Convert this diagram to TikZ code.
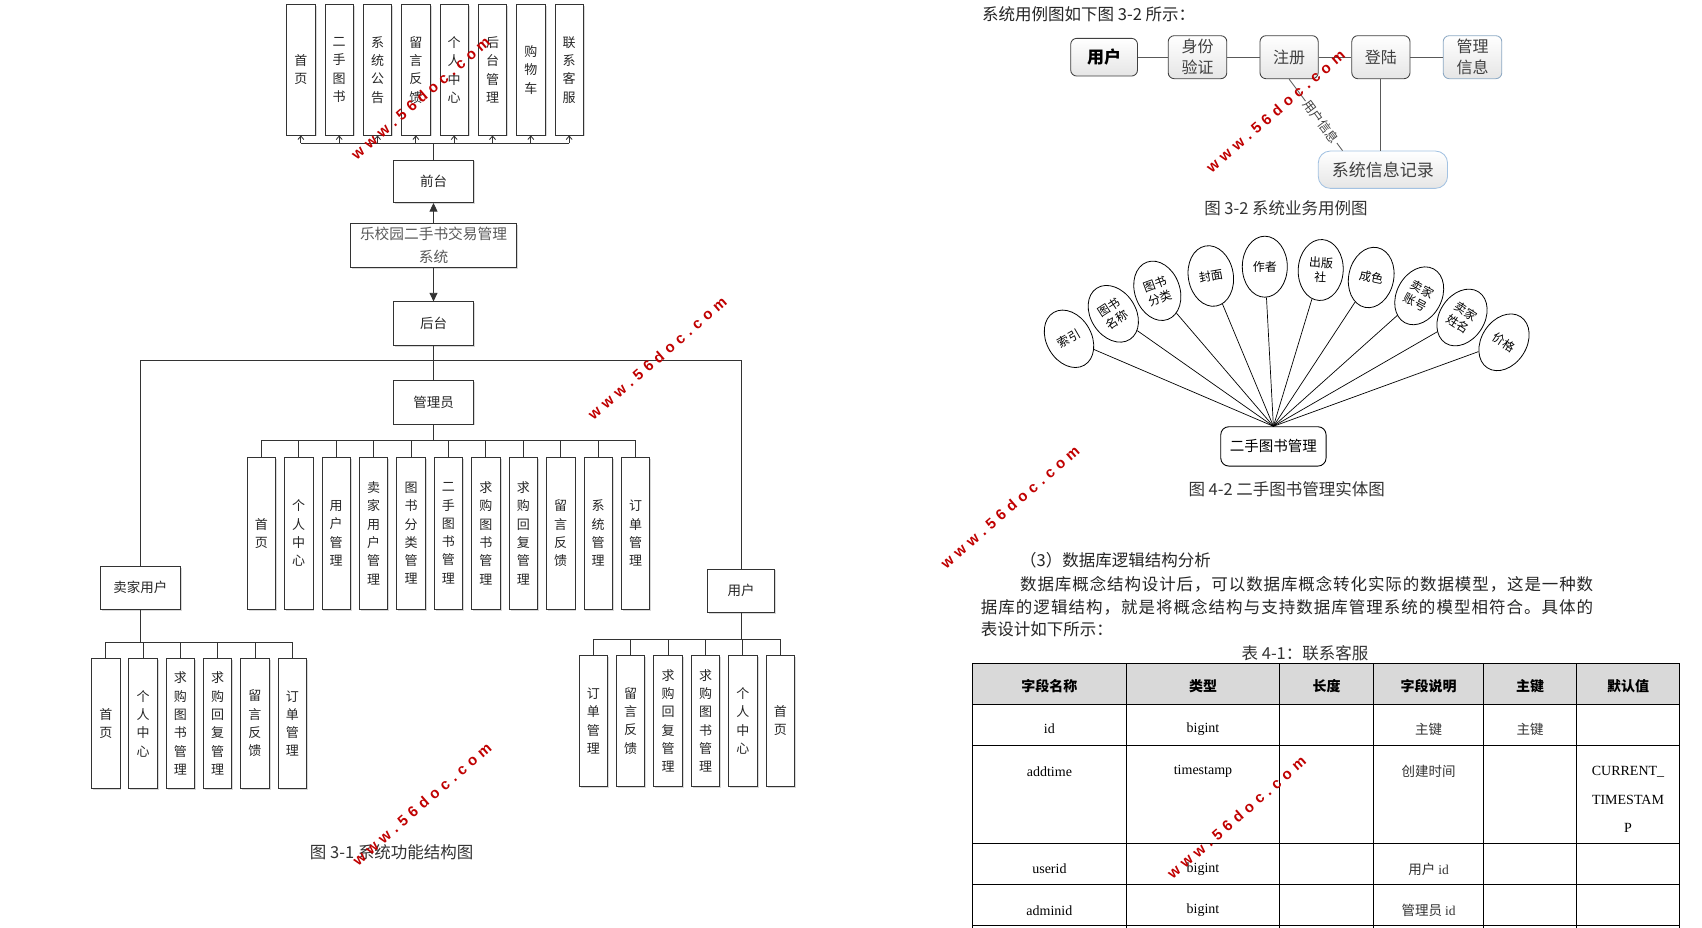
\documentclass[tikz,border=0pt]{standalone}
\usepackage{fontspec}
\setmainfont{Liberation Serif}
\newfontfamily\cjk{Noto Sans CJK SC}
\newfontfamily\wmf{Liberation Sans}
\usetikzlibrary{arrows.meta,shapes.geometric,calc,shadows}
\definecolor{ucblue}{HTML}{8DA9C4}
\definecolor{ucblue2}{HTML}{A3C2E2}
\definecolor{wmred}{HTML}{C00000}
\makeatletter
\newcommand\spreadto[2]{\hbox to #1{\@tfor\spr@c:=#2\do{\spr@c\hfil}\unskip}}
\makeatother
\begin{document}
\begin{tikzpicture}[x=1pt,y=-1pt,
  ln/.style={draw=black!80, line width=0.85pt},
  shad/.style={drop shadow={shadow xshift=1.5pt, shadow yshift=-1.5pt, fill=black!30, opacity=0.5}},
  vb/.style={shad, draw=black!80, line width=0.85pt, fill=white, inner sep=0pt, minimum width=28.4, align=center, font=\cjk\fontsize{13}{18.3}\selectfont, text=black!85},
  hb/.style={shad, draw=black!80, line width=0.85pt, fill=white, inner sep=0pt, align=center, font=\cjk\fontsize{13.5}{16}\selectfont, text=black!85},
  uc/.style={rounded corners=6pt, draw=black!75, line width=0.85pt, top color=white, bottom color=black!10, inner sep=0pt, align=center, font=\cjk\fontsize{16}{21}\selectfont, text=black!75},
  ucl/.style={draw=black!65, line width=0.85pt},
  erell/.style={ellipse, draw=black, line width=0.8pt, fill=white, minimum width=45, minimum height=61, inner sep=0pt, align=center, font=\cjk\fontsize{12}{15}\selectfont},
  capt/.style={inner sep=0pt, font=\cjk\fontsize{16.5}{18}\selectfont, text=black!80},
  paratext/.style={inner sep=0pt, anchor=west, font=\cjk\fontsize{16.5}{18}\selectfont, text=black!85},
  tline/.style={draw=black, line width=1pt},
  thead/.style={inner sep=0pt, font=\cjk\bfseries\fontsize{14}{16}\selectfont},
  tdat/.style={inner sep=0pt, font=\fontsize{14}{16}\selectfont},
  tcjk/.style={inner sep=0pt, font=\cjk\fontsize{13.5}{16}\selectfont, text=black!80},
  wmark/.style={inner sep=0pt, rotate=41, text=wmred, font=\wmf\bfseries\fontsize{15}{15}\selectfont}
]
\fill[white] (0,0) rectangle (1702,928);
\useasboundingbox (0,0) rectangle (1702,928);

% ---------- Figure 3-1 ----------
\foreach \lab [count=\i from 0] in {{首\\页},{二\\手\\图\\书},{系\\统\\公\\告},{留\\言\\反\\馈},{个\\人\\中\\心},{后\\台\\管\\理},{购\\物\\车},{联\\系\\客\\服}}
  \node[vb, minimum height=130.3] (t\i) at ({300.85+38.33*\i},69.85) {\lab};

\node[hb, minimum width=79.3, minimum height=42.7] (front) at (433.5,181.3) {前台};
\node[hb, minimum width=165.3, minimum height=44, font=\cjk\fontsize{14.7}{23.3}\selectfont, text=black!65] (sys) at (433.5,245.3) {乐校园二手书交易管理\\系统};
\node[hb, minimum width=80, minimum height=43.4] (back) at (433.5,323.5) {后台};
\node[hb, minimum width=79.4, minimum height=43.3] (mgr) at (433.5,402.3) {管理员};
\node[hb, minimum width=79.4, minimum height=43.3] (seller) at (140.4,587.7) {卖家用户};
\node[hb, minimum width=67.5, minimum height=43.3] (user) at (741,590.6) {用户};

\coordinate (tbus) at (433.5,143.3);
\draw[ln] (front.north) -- (tbus);
\draw[ln] (tbus -| t0.south) -- (tbus -| t7.south);
\foreach \i in {0,...,7}
  \draw[ln, -{Straight Barb[length=3.5pt,width=6pt]}] (tbus -| t\i.south) -- (t\i.south);
\draw[ln, -{Triangle[length=8.5pt,width=8pt]}] (sys.north) -- (front.south);
\draw[ln, -{Triangle[length=8.5pt,width=8pt]}] (sys.south) -- (back.north);

\coordinate (hbus) at (433.5,360.7);
\draw[ln] (back.south) -- (mgr.north);
\draw[ln] (seller.north) |- (hbus);
\draw[ln] (user.north) |- (hbus);

\foreach \lab [count=\i from 0] in {{首\\页},{个\\人\\中\\心},{用\\户\\管\\理},{卖\\家\\用\\户\\管\\理},{图\\书\\分\\类\\管\\理},{二\\手\\图\\书\\管\\理},{求\\购\\图\\书\\管\\理},{求\\购\\回\\复\\管\\理},{留\\言\\反\\馈},{系\\统\\管\\理},{订\\单\\管\\理}}
  \node[vb, minimum height=152] (a\i) at ({261.3+37.43*\i},533.3) {\lab};
\coordinate (abus) at (433.5,440);
\draw[ln] (mgr.south) -- (abus);
\draw[ln] (a0.north |- abus) -- (a10.north |- abus);
\foreach \i in {0,...,10} \draw[ln] (a\i.north |- abus) -- (a\i.north);

\foreach \lab [count=\i from 0] in {{首\\页},{个\\人\\中\\心},{求\\购\\图\\书\\管\\理},{求\\购\\回\\复\\管\\理},{留\\言\\反\\馈},{订\\单\\管\\理}}
  \node[vb, minimum height=130.4] (s\i) at ({105.75+37.3*\i},723.5) {\lab};
\coordinate (sbus) at (140.4,642);
\draw[ln] (seller.south) -- (sbus);
\draw[ln] (s0.north |- sbus) -- (s5.north |- sbus);
\foreach \i in {0,...,5} \draw[ln] (s\i.north |- sbus) -- (s\i.north);

\foreach \lab [count=\i from 0] in {{订\\单\\管\\理},{留\\言\\反\\馈},{求\\购\\回\\复\\管\\理},{求\\购\\图\\书\\管\\理},{个\\人\\中\\心},{首\\页}}
  \node[vb, minimum height=130.3] (u\i) at ({593.3+37.4*\i},720.85) {\lab};
\coordinate (ubus) at (741,639.3);
\draw[ln] (user.south) -- (ubus);
\draw[ln] (u0.north |- ubus) -- (u5.north |- ubus);
\foreach \i in {0,...,5} \draw[ln] (u\i.north |- ubus) -- (u\i.north);

\node[capt] (cap1) at (391.7,852) {图 3-1 系统功能结构图};

% ---------- Figure 3-2 ----------
\node[paratext] (intro) at (982,14) {系统用例图如下图 3-2 所示：};
\node[uc, minimum width=66.8, minimum height=37.7, font=\cjk\bfseries\fontsize{17}{20}\selectfont, text=black] (uuser) at (1104.1,57.2) {用户};
\node[uc, minimum width=58.6, minimum height=43] (uid) at (1197.5,57.2) {身份\\验证};
\node[uc, minimum width=58.2, minimum height=43] (ureg) at (1289.1,57.2) {注册};
\node[uc, minimum width=58.2, minimum height=43] (ulog) at (1380.9,57.2) {登陆};
\node[uc, draw=ucblue, minimum width=58.6, minimum height=43] (umgmt) at (1472.5,57.2) {管理\\信息};
\node[uc, draw=ucblue2, rounded corners=12pt, minimum width=129.3, minimum height=37.3, font=\cjk\fontsize{17}{20}\selectfont] (urec) at (1382.9,169.7) {系统信息记录};
\draw[ucl] (uuser) -- (uid);
\draw[ucl] (uid) -- (ureg);
\draw[ucl] (ureg) -- (ulog);
\draw[ucl] (ulog) -- (umgmt);
\draw[ucl] (ulog.south) -- (ulog.south |- urec.north);
\draw[ucl] (ureg.south) -- node[pos=0.6, sloped, fill=white, inner sep=1pt, font=\cjk\fontsize{12.5}{14}\selectfont, text=black!75] {用户信息} ($(urec.north west)+(24.7,0)$);
\node[capt] (cap2) at (1286,208.4) {图 3-2 系统业务用例图};

% ---------- Figure 4-2 ----------
\node[erell, rotate=30] (e1) at (1069,338.8) {索引};
\node[erell, rotate=33] (e2) at (1113.3,313.8) {图书\\名称};
\node[erell, rotate=20] (e3) at (1157.3,290.8) {图书\\分类};
\node[erell, rotate=10] (e4) at (1210.8,276) {封面};
\node[erell] (e5) at (1264.8,266.7) {作者};
\node[erell, rotate=-3] (e6) at (1320.7,270) {出版\\社};
\node[erell, rotate=-12] (e7) at (1371.2,277.5) {成色};
\node[erell, rotate=-28] (e8) at (1419.2,295.8) {卖家\\账号};
\node[erell, rotate=-33] (e9) at (1462,317.5) {卖家\\姓名};
\node[erell, rotate=-33] (e10) at (1504,342.3) {价格};
\node[draw=black, rounded corners=8pt, line width=0.9pt, inner sep=0pt, minimum width=105.3, minimum height=39.3, font=\cjk\fontsize{14.5}{16}\selectfont] (book) at (1273.4,446.4) {二手图书管理};
\foreach \i in {1,...,10} \draw[line width=0.7pt] (e\i) -- (book.north);
\node[capt] (cap3) at (1286.7,489) {图 4-2 二手图书管理实体图};

% ---------- Text & table ----------
\node[paratext] (h3) at (1020,560) {（3）数据库逻辑结构分析};
\node[paratext] (p1) at (1020,584) {\spreadto{573pt}{数据库概念结构设计后，可以数据库概念转化实际的数据模型，这是一种数}};
\node[paratext] (p2) at (980.7,607) {\spreadto{612.3pt}{据库的逻辑结构，就是将概念结构与支持数据库管理系统的模型相符合。具体的}};
\node[paratext] (p3) at (980.7,629) {表设计如下所示：};
\node[capt] (tcap) at (1305,653) {表 4-1：联系客服};

\fill[black!15] (972.3,663.3) rectangle (1679.6,704.3);
\foreach \yy in {663.3,704.3,745.7,843.3,884.3,925.7} \draw[tline] (972.3,\yy) -- (1679.6,\yy);
\foreach \xx in {972.3,1126.4,1279.5,1373.4,1483.5,1576.5,1679.6} \draw[tline] (\xx,663.3) -- (\xx,928);

\node[thead] at (1049.4,686) {字段名称};
\node[thead] at (1203,686) {类型};
\node[thead] at (1326.5,686) {长度};
\node[thead] at (1428.5,686) {字段说明};
\node[thead] at (1530,686) {主键};
\node[thead] at (1628,686) {默认值};

\node[tdat] at (1049.4,729) {id};
\node[tdat] at (1203,729) {bigint};
\node[tcjk] at (1428.5,729) {主键};
\node[tcjk] at (1530,729) {主键};

\node[tdat] at (1049.4,771.7) {addtime};
\node[tdat] at (1203,771.7) {timestamp};
\node[tcjk] at (1428.5,771.7) {创建时间};
\node[tdat] at (1628,771.7) {CURRENT\_};
\node[tdat] at (1628,800) {TIMESTAM};
\node[tdat] at (1628,828.3) {P};

\node[tdat] at (1049.4,869) {userid};
\node[tdat] at (1203,869) {bigint};
\node[tcjk] at (1428.5,869) {用户 {\rmfamily id}};

\node[tdat] at (1049.4,910.5) {adminid};
\node[tdat] at (1203,910.5) {bigint};
\node[tcjk] at (1428.5,910.5) {管理员 {\rmfamily id}};

% ---------- watermarks ----------
\foreach \p in {(420.6,97.7),(657.3,358.2),(1010,507),(1275.5,111.3),(422,804),(1236.5,817.5)}
  \node[wmark] at \p {\spreadto{178pt}{www.56doc.com}};
\end{tikzpicture}
\end{document}
